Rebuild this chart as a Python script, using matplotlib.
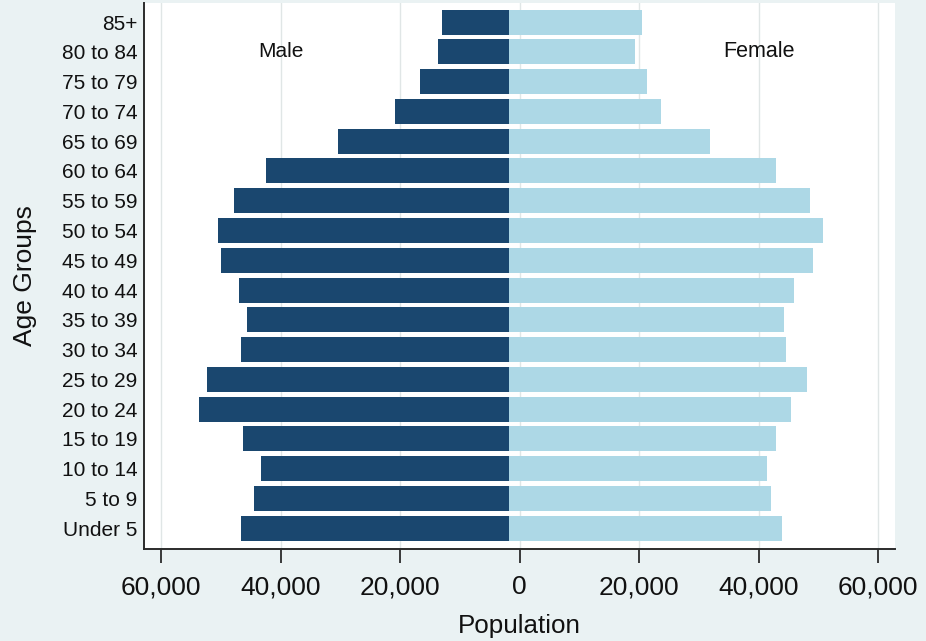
"""
Population pyramid: male bars to the left, female bars to the right.
"""

import matplotlib
matplotlib.use('Agg')
import matplotlib.pyplot as plt
from matplotlib.ticker import FuncFormatter

plt.rcParams['font.family'] = ['Liberation Sans', 'DejaVu Sans']

# Age groups, bottom to top
age_groups = ['Under 5', '5 to 9', '10 to 14', '15 to 19', '20 to 24', '25 to 29',
              '30 to 34', '35 to 39', '40 to 44', '45 to 49', '50 to 54', '55 to 59',
              '60 to 64', '65 to 69', '70 to 74', '75 to 79', '80 to 84', '85+']

# Population (same order as age_groups)
male = [46610, 44480, 43310, 46230, 53640, 52350, 46560, 45660, 46890, 49910,
        50510, 47780, 42480, 30460, 20900, 16600, 13610, 12990]
female = [43930, 42040, 41370, 42930, 45320, 48000, 44600, 44270, 45940, 49070,
          50680, 48620, 42930, 31880, 23730, 21290, 19330, 20450]

x_ticks = [-60000, -40000, -20000, 0, 20000, 40000, 60000]

# colours (Stata s2color look)
BG = '#EAF2F3'
NAVY = '#1A476F'
LIGHT = '#ADD8E6'
GRID = '#E0E6E6'
AXIS = '#2B2B2B'

# the bars in the original meet slightly left of zero
BASE = -1700

fig = plt.figure(figsize=(9.26, 6.41), dpi=100, facecolor=BG)
ax = fig.add_axes([0.1558, 0.1435, 0.8107, 0.8518])
ax.set_facecolor('white')

y = list(range(len(age_groups)))
male_width = [-m - BASE for m in male]
female_width = [f - BASE for f in female]

ax.barh(y, male_width, left=BASE, height=0.84, color=NAVY, linewidth=0, zorder=3)
ax.barh(y, female_width, left=BASE, height=0.84, color=LIGHT, linewidth=0, zorder=3)

ax.set_xlim(-62800, 62800)
ax.set_ylim(-0.695, len(age_groups) - 1 + 0.638)

# vertical grid lines at the ticks
ax.set_xticks(x_ticks)
ax.xaxis.set_major_formatter(FuncFormatter(lambda v, p: f'{abs(int(v)):,}'))
ax.grid(axis='x', color=GRID, linewidth=1.0, zorder=0)
ax.set_axisbelow(True)

ax.set_yticks(y)
ax.set_yticklabels(age_groups)

ax.tick_params(axis='x', length=10, width=1.3, color=AXIS, pad=9,
               labelsize=19, labelcolor='#111111')
ax.tick_params(axis='y', length=0, pad=5, labelsize=15, labelcolor='#111111')

for side in ['top', 'right']:
    ax.spines[side].set_visible(False)
for side in ['left', 'bottom']:
    ax.spines[side].set_color(AXIS)
    ax.spines[side].set_linewidth(1.4)

# axis titles
ax.set_xlabel('Population', fontsize=18.7, color='#111111')
ax.xaxis.label.set_verticalalignment('baseline')
ax.xaxis.set_label_coords(0.5, -0.1533)

ax.set_ylabel('Age Groups', fontsize=19, color='#111111')
ax.yaxis.label.set_verticalalignment('baseline')
ax.yaxis.set_label_coords(-0.1496, 0.5)

# sex labels inside the plot
ax.text(-40000, 16, 'Male', ha='center', va='center', fontsize=15, color='#111111', zorder=5)
ax.text(40000, 16, 'Female', ha='center', va='center', fontsize=15.5, color='#111111', zorder=5)

fig.savefig('out.png', dpi=100, facecolor=BG)
plt.close(fig)
